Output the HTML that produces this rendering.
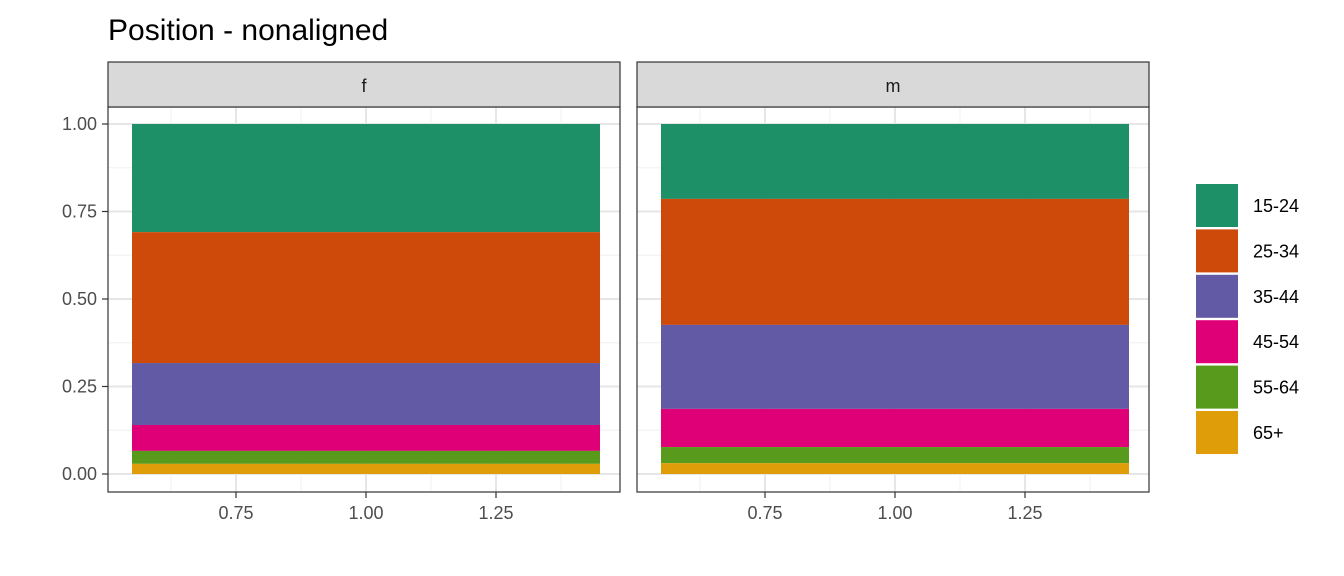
<!DOCTYPE html>
<html><head><meta charset="utf-8"><style>body{margin:0;background:#fff}svg{display:block;font-family:"Liberation Sans",Arial,sans-serif}</style></head>
<body>
<svg id="c" width="1344" height="576"></svg>
<script>
const panels=["f","m"];
const ageGroups=["15-24","25-34","35-44","45-54","55-64","65+"];
const colors=["#1b9e77","#d95f02","#7570b3","#e7298a","#66a61e","#e6ab02"];
const valuesF=[0.309,0.374,0.177,0.074,0.037,0.029];
const valuesM=[0.214,0.360,0.240,0.109,0.046,0.031];
const yTicks=[0,0.25,0.5,0.75,1];
const yTickLabels=["0.00","0.25","0.50","0.75","1.00"];
const xTicks=[0.75,1,1.25];
const xTickLabels=["0.75","1.00","1.25"];
const series=[valuesF,valuesM];
const fills=["#1e9068","#cd4a0a","#625aa5","#df0077","#589a1b","#df9e09"];
const svg=document.getElementById('c');const NS="http://www.w3.org/2000/svg";
function mk(t,a,p){const e=document.createElementNS(NS,t);for(const k in a)e.setAttribute(k,a[k]);(p||svg).appendChild(e);return e;}
const y=v=>474-v*350;
const panelX=[108,637];
const t=mk('text',{x:108,y:40,'font-size':30,fill:'#000'});t.textContent="Position - nonaligned";

panels.forEach((p,pi)=>{
 const x0=panelX[pi];const x=v=>x0+258+(v-1)*520;
 const g=mk('g',{});
 mk('rect',{x:x0,y:107,width:512,height:385,fill:'#fff'},g);
 [0.125,0.375,0.625,0.875].forEach(v=>mk('line',{x1:x0,x2:x0+512,y1:y(v),y2:y(v),stroke:'#f0f0f0','stroke-width':1},g));
 [0.625,0.875,1.125,1.375].forEach(v=>mk('line',{x1:x(v),x2:x(v),y1:107,y2:492,stroke:'#f0f0f0','stroke-width':1},g));
 yTicks.forEach(v=>mk('line',{x1:x0,x2:x0+512,y1:y(v),y2:y(v),stroke:'#e6e6e6','stroke-width':2},g));
 xTicks.forEach(v=>mk('line',{x1:x(v),x2:x(v),y1:107,y2:492,stroke:'#e6e6e6','stroke-width':2},g));
 let top=1;
 series[pi].forEach((val,i)=>{const r=mk('rect',{x:x(0.55),width:x(1.45)-x(0.55),y:y(top),height:val*350,fill:fills[i]},g);
  top-=val;});
 mk('rect',{x:x0,y:107,width:512,height:385,fill:'none',stroke:'#333','stroke-width':1.2},g);
 const s=mk('rect',{x:x0,y:62,width:512,height:45,fill:'#d9d9d9',stroke:'#333','stroke-width':1.2});
 
 const st=mk('text',{x:x0+256,y:92,'font-size':18,'text-anchor':'middle',fill:'#1a1a1a'});st.textContent=p;
 xTicks.forEach((v,i)=>{mk('line',{x1:x(v),x2:x(v),y1:492,y2:498,stroke:'#333','stroke-width':1.2});
  const tl=mk('text',{x:x(v),y:519,'font-size':18,'text-anchor':'middle',fill:'#4d4d4d'});tl.textContent=xTickLabels[i];
  });
});
yTicks.forEach((v,i)=>{mk('line',{x1:102,x2:108,y1:y(v),y2:y(v),stroke:'#333','stroke-width':1.2});
 const tl=mk('text',{x:97,y:y(v)+6,'font-size':18,'text-anchor':'end',fill:'#4d4d4d'});tl.textContent=yTickLabels[i];
 });
ageGroups.forEach((a,i)=>{const ly=184+i*45.4;
 const r=mk('rect',{x:1196,y:ly,width:42,height:43,fill:fills[i]});
 
 const tl=mk('text',{x:1253,y:ly+28,'font-size':18,fill:'#000'});tl.textContent=a;
 });
</script>
</body></html>
